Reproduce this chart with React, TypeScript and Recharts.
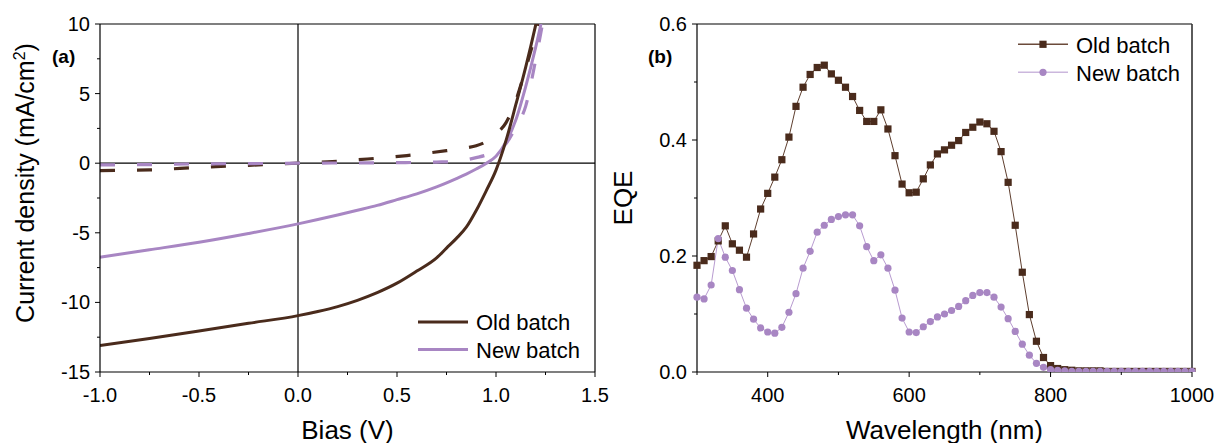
import React from 'react';
import { LineChart, Line, XAxis, YAxis, ReferenceLine, Legend } from 'recharts';

const BROWN = '#4a2b1c';
const PURPLE = '#a886c3';
const FONT = '"Liberation Sans", Arial, Helvetica, sans-serif';

// (a) J–V sweeps, bias in V, current density in mA/cm2
const oldLightV = [-1, -0.75, -0.5, -0.25, 0, 0.1, 0.2, 0.3, 0.4, 0.5, 0.6, 0.7, 0.75, 0.8, 0.85, 0.9, 0.95, 1.0, 1.05, 1.1, 1.15, 1.2, 1.22];
const oldLightJ = [-13.1, -12.6, -12.05, -11.5, -10.95, -10.65, -10.3, -9.85, -9.3, -8.62, -7.75, -6.8, -6.1, -5.4, -4.6, -3.4, -2.0, -0.5, 1.6, 4.2, 6.9, 9.9, 11.2];

const oldDarkV = [-1, -0.75, -0.5, -0.25, 0, 0.15, 0.35, 0.55, 0.75, 0.85, 0.9, 0.95, 1.0, 1.05, 1.1, 1.15, 1.2, 1.23];
const oldDarkJ = [-0.53, -0.48, -0.3, -0.15, 0, 0.1, 0.3, 0.55, 0.9, 1.1, 1.25, 1.55, 2.1, 2.9, 4.5, 6.8, 9.3, 11];

const newLightV = [-1, -0.75, -0.5, -0.25, 0, 0.1, 0.2, 0.3, 0.4, 0.5, 0.6, 0.7, 0.8, 0.85, 0.9, 0.95, 1.0, 1.05, 1.1, 1.15, 1.2, 1.25];
const newLightJ = [-6.75, -6.22, -5.68, -5.05, -4.36, -4.05, -3.72, -3.38, -3.03, -2.62, -2.2, -1.7, -1.1, -0.78, -0.42, -0.02, 0.5, 1.5, 3.1, 5.5, 8.3, 11.5];

const newDarkV = [-1, -0.75, -0.5, -0.25, 0, 0.25, 0.5, 0.7, 0.8, 0.85, 0.9, 0.95, 1.0, 1.05, 1.1, 1.15, 1.2, 1.25];
const newDarkJ = [-0.12, -0.1, -0.05, -0.03, 0, 0.02, 0.04, 0.08, 0.13, 0.24, 0.4, 0.58, 0.85, 1.4, 2.6, 4.1, 7.4, 11.2];

const biasMajor = [-1, -0.5, 0, 0.5, 1, 1.5];
const biasTicks = [-1, -0.75, -0.5, -0.25, 0, 0.25, 0.5, 0.75, 1, 1.25, 1.5];
const jMajor = [-15, -10, -5, 0, 5, 10];
const jTicks = [-15, -12.5, -10, -7.5, -5, -2.5, 0, 2.5, 5, 7.5, 10];

// (b) EQE spectra, 300–1000 nm in 10 nm steps
const wavelength = [
  300, 310, 320, 330, 340, 350, 360, 370, 380, 390, 400, 410, 420, 430, 440, 450, 460, 470, 480, 490,
  500, 510, 520, 530, 540, 550, 560, 570, 580, 590, 600, 610, 620, 630, 640, 650, 660, 670, 680, 690,
  700, 710, 720, 730, 740, 750, 760, 770, 780, 790, 800, 810, 820, 830, 840, 850, 860, 870, 880, 890,
  900, 910, 920, 930, 940, 950, 960, 970, 980, 990, 1000,
];
const oldEqe = [
  0.184, 0.192, 0.199, 0.226, 0.252, 0.221, 0.21, 0.198, 0.238, 0.281, 0.308, 0.336, 0.366, 0.405, 0.458, 0.491, 0.513, 0.525, 0.529, 0.514,
  0.503, 0.491, 0.475, 0.451, 0.432, 0.432, 0.452, 0.419, 0.373, 0.324, 0.309, 0.31, 0.333, 0.357, 0.376, 0.383, 0.391, 0.399, 0.413, 0.422,
  0.431, 0.428, 0.415, 0.38, 0.327, 0.253, 0.172, 0.099, 0.053, 0.025, 0.011, 0.006, 0.004, 0.003, 0.002, 0.002, 0.002, 0.002, 0.001, 0.001,
  0.001, 0.001, 0.001, 0.001, 0.001, 0.001, 0.001, 0.001, 0.001, 0.001, 0.001,
];
const newEqe = [
  0.129, 0.126, 0.15, 0.23, 0.198, 0.175, 0.142, 0.11, 0.091, 0.076, 0.069, 0.067, 0.077, 0.103, 0.135, 0.179, 0.208, 0.241, 0.253, 0.263,
  0.268, 0.271, 0.271, 0.252, 0.216, 0.192, 0.202, 0.179, 0.141, 0.093, 0.069, 0.068, 0.078, 0.087, 0.095, 0.1, 0.106, 0.113, 0.123, 0.132,
  0.137, 0.137, 0.129, 0.112, 0.092, 0.07, 0.048, 0.029, 0.015, 0.008, 0.004, 0.003, 0.002, 0.001, 0.001, 0.001, 0.001, 0.001, 0.001, 0.001,
  0.001, 0.001, 0.001, 0.001, 0.001, 0.001, 0.001, 0.001, 0.001, 0.001, 0.001,
];

const wlMajor = [400, 600, 800, 1000];
const wlTicks = [300, 400, 500, 600, 700, 800, 900, 1000];
const eqeMajor = [0, 0.2, 0.4, 0.6];
const eqeTicks = [0, 0.1, 0.2, 0.3, 0.4, 0.5, 0.6];

const legendOrder = ['Old batch', 'New batch'];

const zip = (v: number[], j: number[]) => v.map((x, i) => ({ v: x, j: j[i] }));
const eqeData = wavelength.map((w, i) => ({ w, oldEqe: oldEqe[i], newEqe: newEqe[i] }));

const AXIS = { stroke: '#000', strokeWidth: 1.2 };

const bottomTick = (majors: number[], fmt: (n: number) => string) => (props: any) => {
  const { x, y, payload, index } = props;
  const major = majors.includes(payload.value);
  return (
    <g key={index}>
      <line x1={x} x2={x} y1={y} y2={y + (major ? 5 : 3)} stroke="#000" strokeWidth={1} />
      {major && (
        <text x={x} y={y + 30} textAnchor="middle" fontSize={20} fontFamily={FONT} fill="#000">
          {fmt(payload.value)}
        </text>
      )}
    </g>
  );
};

const leftTick = (majors: number[], fmt: (n: number) => string) => (props: any) => {
  const { x, y, payload, index } = props;
  const major = majors.includes(payload.value);
  return (
    <g key={index}>
      <line x1={x} x2={x - (major ? 5 : 3)} y1={y} y2={y} stroke="#000" strokeWidth={1} />
      {major && (
        <text x={x - 10} y={y + 7} textAnchor="end" fontSize={20} fontFamily={FONT} fill="#000">
          {fmt(payload.value)}
        </text>
      )}
    </g>
  );
};

const SquareDot = (props: any) => {
  const { cx, cy, index } = props;
  if (cx == null || cy == null) return <g key={index} />;
  return <rect key={index} x={cx - 3.6} y={cy - 3.6} width={7.2} height={7.2} fill={BROWN} />;
};

const sortEntries = (payload: any[] | undefined) =>
  (payload ?? [])
    .filter((p: any) => legendOrder.includes(p.value))
    .sort((a: any, b: any) => legendOrder.indexOf(a.value) - legendOrder.indexOf(b.value));

const JvLegend = ({ payload }: any) => (
  <svg width={200} height={64}>
    {sortEntries(payload).map((p: any, i: number) => (
      <g key={p.value}>
        <line x1={8} x2={58} y1={14 + i * 27.6} y2={14 + i * 27.6} stroke={p.color} strokeWidth={3} />
        <text x={66} y={22.3 + i * 27.6} fontSize={22} fontFamily={FONT} fill="#000">
          {p.value}
        </text>
      </g>
    ))}
  </svg>
);

const EqeLegend = ({ payload }: any) => (
  <svg width={200} height={64}>
    {sortEntries(payload).map((p: any, i: number) => {
      const yy = 14.3 + i * 28;
      const isOld = p.value === 'Old batch';
      return (
        <g key={p.value}>
          <line x1={8} x2={58} y1={yy} y2={yy} stroke={isOld ? '#6b4a3a' : '#cbb7dd'} strokeWidth={1.5} />
          {isOld ? (
            <rect x={33 - 3.6} y={yy - 3.6} width={7.2} height={7.2} fill={BROWN} />
          ) : (
            <circle cx={33} cy={yy} r={3.6} fill={PURPLE} />
          )}
          <text x={66} y={23 + i * 27.7} fontSize={22} fontFamily={FONT} fill="#000">
            {p.value}
          </text>
        </g>
      );
    })}
  </svg>
);

export default function App() {
  return (
    <div style={{ position: 'absolute', left: 0, top: 0, width: 1216, height: 443, background: '#fff' }}>
      <div style={{ position: 'absolute', left: 0, top: 0 }}>
        <LineChart width={612} height={443} margin={{ top: 24, right: 17, bottom: 0, left: 0 }}>
          <XAxis
            type="number"
            dataKey="v"
            domain={[-1, 1.5]}
            ticks={biasTicks}
            interval={0}
            height={71}
            tickSize={0}
            tickMargin={0}
            tickLine={false}
            tick={bottomTick(biasMajor, (n) => n.toFixed(1))}
            axisLine={AXIS}
            allowDataOverflow
          />
          <YAxis
            type="number"
            domain={[-15, 10]}
            ticks={jTicks}
            interval={0}
            width={100}
            tickSize={0}
            tickMargin={0}
            tickLine={false}
            tick={leftTick(jMajor, (n) => String(n))}
            axisLine={AXIS}
            allowDataOverflow
          />
          <ReferenceLine y={10} stroke="#000" strokeWidth={1.2} />
          <ReferenceLine x={1.5} stroke="#000" strokeWidth={1.2} />
          <ReferenceLine y={0} stroke="#000" strokeWidth={1.2} />
          <ReferenceLine x={0} stroke="#000" strokeWidth={1.2} />
          <Legend
            layout="horizontal"
            verticalAlign="middle"
            content={<JvLegend />}
            wrapperStyle={{ left: 410, top: 308, width: 200, height: 64 }}
          />
          <Line data={zip(oldDarkV, oldDarkJ)} dataKey="j" name="Old batch dark" legendType="none" type="monotone"
            stroke={BROWN} strokeWidth={3.2} strokeDasharray="15 22" dot={false} isAnimationActive={false} />
          <Line data={zip(newDarkV, newDarkJ)} dataKey="j" name="New batch dark" legendType="none" type="monotone"
            stroke={PURPLE} strokeWidth={3.2} strokeDasharray="15 22" dot={false} isAnimationActive={false} />
          <Line data={zip(newLightV, newLightJ)} dataKey="j" name="New batch" type="monotone"
            stroke={PURPLE} strokeWidth={3} dot={false} isAnimationActive={false} />
          <Line data={zip(oldLightV, oldLightJ)} dataKey="j" name="Old batch" type="monotone"
            stroke={BROWN} strokeWidth={3} dot={false} isAnimationActive={false} />
        </LineChart>
      </div>

      <div style={{ position: 'absolute', left: 600, top: 0 }}>
        <LineChart width={616} height={443} data={eqeData} margin={{ top: 24, right: 24, bottom: 0, left: 0 }}>
          <XAxis
            type="number"
            dataKey="w"
            domain={[300, 1000]}
            ticks={wlTicks}
            interval={0}
            height={71}
            tickSize={0}
            tickMargin={0}
            tickLine={false}
            tick={bottomTick(wlMajor, (n) => String(n))}
            axisLine={AXIS}
          />
          <YAxis
            type="number"
            domain={[0, 0.6]}
            ticks={eqeTicks}
            interval={0}
            width={97}
            tickSize={0}
            tickMargin={0}
            tickLine={false}
            tick={leftTick(eqeMajor, (n) => n.toFixed(1))}
            axisLine={AXIS}
            allowDataOverflow
          />
          <ReferenceLine y={0.6} stroke="#000" strokeWidth={1.2} />
          <ReferenceLine x={1000} stroke="#333" strokeWidth={1.6} />
          <Legend
            layout="horizontal"
            verticalAlign="middle"
            content={<EqeLegend />}
            wrapperStyle={{ left: 410, top: 30, width: 200, height: 64 }}
          />
          <Line dataKey="oldEqe" name="Old batch" stroke="#5e3e2e" strokeWidth={1}
            dot={(p: any) => <SquareDot {...p} key={p.index} />} isAnimationActive={false} />
          <Line dataKey="newEqe" name="New batch" stroke="#b89bd0" strokeWidth={1}
            dot={{ r: 3.6, fill: PURPLE, stroke: PURPLE, strokeWidth: 0 }} isAnimationActive={false} />
        </LineChart>
      </div>

      <svg width={1216} height={443} style={{ position: 'absolute', left: 0, top: 0, pointerEvents: 'none' }} fontFamily={FONT}>
        <text transform="translate(34,183) rotate(-90)" textAnchor="middle" fontSize={25} fill="#000">
          Current density (mA/cm<tspan dy={-9} fontSize={16}>2</tspan><tspan dy={9}>)</tspan>
        </text>
        <text x={347.5} y={439} textAnchor="middle" fontSize={26} fill="#000">Bias (V)</text>
        <text transform="translate(632,198) rotate(-90)" textAnchor="middle" fontSize={26} fill="#000">EQE</text>
        <text x={944.5} y={439} textAnchor="middle" fontSize={26} fill="#000">Wavelength (nm)</text>
        <text x={52} y={63} fontSize={19} fontWeight="bold" fill="#000">(a)</text>
        <text x={648} y={63} fontSize={19} fontWeight="bold" fill="#000">(b)</text>
      </svg>
    </div>
  );
}
